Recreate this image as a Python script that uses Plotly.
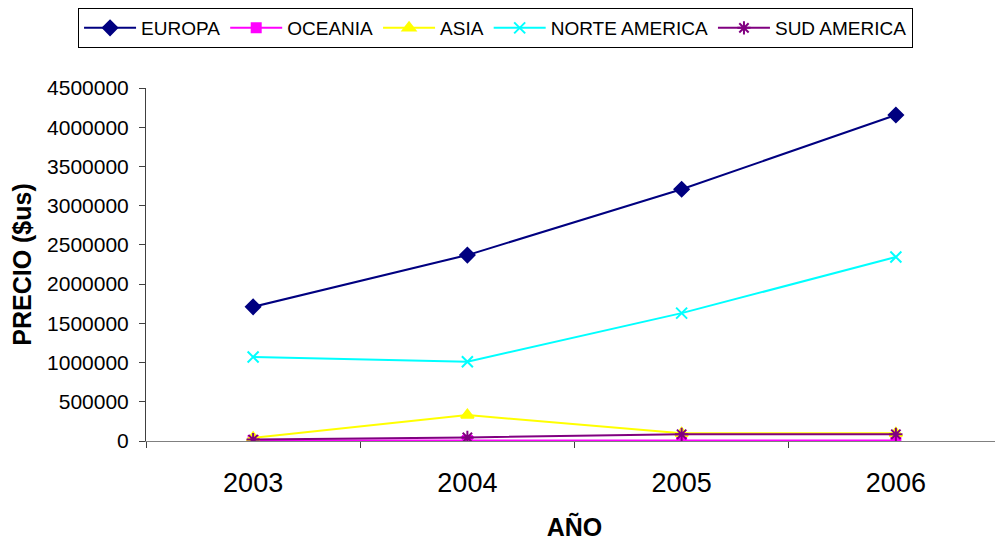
import plotly.graph_objects as go

years = ['2003', '2004', '2005', '2006']
europa = [1710000, 2370000, 3210000, 4155000]
oceania = [5000, 6000, 7000, 7000]
asia = [40000, 330000, 98000, 98000]
norte_america = [1070000, 1010000, 1630000, 2345000]
sud_america = [18000, 45000, 85000, 85000]

series = [
    ('EUROPA', europa, '#000080', 'diamond', 11),
    ('OCEANIA', oceania, '#FF00FF', 'square', 9),
    ('ASIA', asia, '#FFFF00', 'triangle-up', 11),
    ('NORTE AMERICA', norte_america, '#00FFFF', 'x-thin-open', 11),
    ('SUD AMERICA', sud_america, '#800080', 'asterisk-open', 11),
]

fig = go.Figure()
for name, vals, color, symbol, size in series:
    fig.add_trace(go.Scatter(
        x=years, y=vals, name=name, mode='lines+markers',
        line=dict(color=color, width=2),
        marker=dict(symbol=symbol, size=size, color=color,
                    line=dict(color=color, width=2)),
    ))

# page body adds an 8px offset, so the figure is 8px smaller than the window
fig.update_layout(
    width=995, height=536,
    paper_bgcolor='white', plot_bgcolor='white',
    font=dict(family='Liberation Sans, Arial, sans-serif', color='black'),
    margin=dict(l=138, r=0, t=80, b=103, autoexpand=False),
    legend=dict(
        orientation='h', xref='container', yref='container',
        x=0.49, xanchor='center', y=1, yanchor='top',
        bordercolor='black', borderwidth=1,
        font=dict(size=19), itemwidth=52,
    ),
    xaxis=dict(
        type='category', range=[-0.5, 3.5], showgrid=False, automargin=False,
        showline=True, linecolor='#808080', linewidth=1,
        ticks='outside', tickson='boundaries', ticklen=6, tickcolor='#404040',
        tickfont=dict(size=27), ticklabelstandoff=18,
        title=dict(text='<b>AÑO</b>', font=dict(size=25), standoff=21),
    ),
    yaxis=dict(
        range=[0, 4500000], dtick=500000, showgrid=False, zeroline=False,
        automargin=False,
        showline=True, linecolor='#404040', linewidth=1,
        ticks='outside', ticklen=6, tickcolor='#404040',
        tickformat='d', tickfont=dict(size=21), ticklabelstandoff=6,
        title=dict(text='<b>PRECIO ($us)</b>', font=dict(size=25), standoff=11),
    ),
)

fig.write_html("out.html")
